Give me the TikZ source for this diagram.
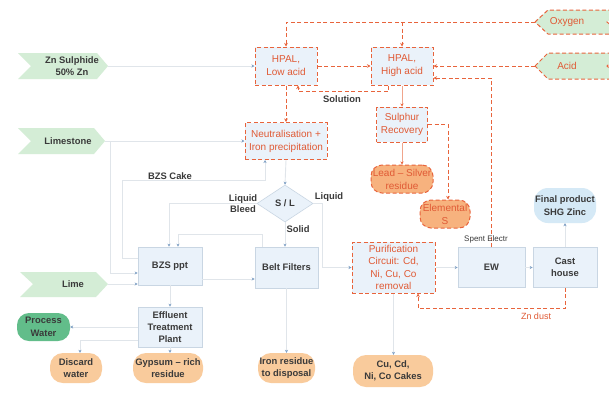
\documentclass[tikz,border=0pt]{standalone}
\usepackage{fontspec}
\setmainfont{Liberation Sans}
\usetikzlibrary{shapes.geometric,arrows.meta,calc}
\definecolor{redc}{HTML}{E8643C}
\definecolor{redtext}{HTML}{E05A35}
\definecolor{chevfill}{HTML}{D4EDD6}
\definecolor{boxfill}{HTML}{EAF2FA}
\definecolor{boxline}{HTML}{C9D6E3}
\definecolor{linegray}{HTML}{E0E5EA}
\definecolor{darktext}{HTML}{3A3A3A}
\definecolor{orangefill}{HTML}{F9CB9C}
\definecolor{orangetwo}{HTML}{F7B27E}
\definecolor{procfill}{HTML}{62BD8A}
\definecolor{finalfill}{HTML}{D5E9F6}
\definecolor{arrowblue}{HTML}{7D9FC4}
\definecolor{thinred}{HTML}{F0A58C}
\tikzset{
 box/.style={rectangle, draw=boxline, line width=0.6pt, fill=boxfill, text=darktext, font=\bfseries\fontsize{9.4}{12.5}\selectfont, align=center, inner sep=1pt},
 rbox/.style={box, draw=redc, line width=1pt, dash pattern=on 4pt off 2.5pt, text=redtext, font=\fontsize{10}{13}\selectfont},
 term/.style={rectangle, rounded corners=12pt, fill=orangefill, text=darktext, font=\bfseries\fontsize{9.4}{12.5}\selectfont, align=center, inner sep=1pt},
 rterm/.style={term, fill=orangetwo, draw=redc, line width=1pt, dash pattern=on 4pt off 2.5pt, text=redtext, font=\fontsize{10}{13}\selectfont},
 lbl/.style={text=darktext, font=\bfseries\fontsize{9.4}{11.5}\selectfont, align=center, inner sep=0pt},
 conn/.style={draw=linegray, line width=0.9pt, -{Stealth[length=3pt,width=3pt,color=arrowblue]}},
 thin/.style={draw=thinred, line width=0.8pt, -{Stealth[length=3pt,width=3pt,color=redc]}},
 rconn/.style={draw=redc, line width=1pt, dash pattern=on 4pt off 2.5pt, -{Stealth[length=3.5pt,width=3.5pt]}},
 chevr/.style={fill=chevfill, draw=redc, line width=1pt, dash pattern=on 4pt off 2.5pt},
}
\begin{document}
\begin{tikzpicture}[x=1pt,y=-1pt]
\fill[white] (0,0) rectangle (609,392);
\clip (0,0) rectangle (609,392);

% chevrons (inputs)
\fill[chevfill] (18,53) -- (97,53) -- (108,66) -- (97,79) -- (18,79) -- (31,66) -- cycle;
\node[lbl] (zns) at (72,66) {Zn Sulphide\\50\% Zn};
\coordinate (znstip) at (108,66);
\fill[chevfill] (18,128) -- (94,128) -- (105,141) -- (94,154) -- (18,154) -- (31,141) -- cycle;
\node[lbl] (lst) at (68,141) {Limestone};
\coordinate (lsttip) at (105,141);
\fill[chevfill] (20,272) -- (96,272) -- (108,284) -- (96,297) -- (20,297) -- (33,284) -- cycle;
\node[lbl] (lime) at (73,284.5) {Lime};
\coordinate (limetip) at (108,284);
\path[chevr] (535,22) -- (548,10) -- (622,10) -- (607,22) -- (622,34) -- (548,34) -- cycle;
\node[lbl,text=redtext,font=\fontsize{10}{12}\selectfont] (oxy) at (567,22) {Oxygen};
\coordinate (oxtip) at (535,22);
\path[chevr] (535,66) -- (548,53) -- (622,53) -- (607,66) -- (622,79) -- (548,79) -- cycle;
\node[lbl,text=redtext,font=\fontsize{10}{12}\selectfont] (acid) at (567,66) {Acid};
\coordinate (acidtip) at (535,66);

% process boxes
\node[rbox, minimum width=62, minimum height=38] (lowacid) at (286,66) {HPAL,\\Low acid};
\node[rbox, minimum width=62, minimum height=38] (highacid) at (402,66) {HPAL,\\High acid};
\node[rbox, minimum width=82, minimum height=37] (neut) at (286,141) {Neutralisation +\\Iron precipitation};
\node[rbox, minimum width=51, minimum height=35] (sulph) at (402,124.5) {Sulphur\\Recovery};
\node[rterm, minimum width=62, minimum height=28, rounded corners=11pt] (leadag) at (402,179) {Lead -- Silver\\residue};
\node[rterm, minimum width=50, minimum height=28, rounded corners=11pt] (elems) at (445,214) {Elemental\\S};
\node[rbox, minimum width=83, minimum height=51, font=\fontsize{10}{12.3}\selectfont] (purif) at (393.5,267.5) {Purification\\Circuit: Cd,\\Ni, Cu, Co\\removal};
\node[box, minimum width=67, minimum height=40] (ew) at (491.5,267.5) {EW};
\node[box, minimum width=64, minimum height=40] (cast) at (565,267.5) {Cast\\house};
\node[term, fill=finalfill, minimum width=62, minimum height=35, rounded corners=14pt] (final) at (565,205.5) {Final product\\SHG Zinc};
\node[term, minimum width=80, minimum height=32, rounded corners=13pt] (cakes) at (393,371) {Cu, Cd,\\Ni, Co Cakes};
\node[box, minimum width=64, minimum height=38] (bzs) at (170,266) {BZS ppt};
\node[box, minimum width=63, minimum height=41] (belt) at (286.5,267.5) {Belt Filters};
\node[box, minimum width=64, minimum height=40, font=\bfseries\fontsize{9.4}{12.3}\selectfont] (eff) at (170,327) {Effluent\\Treatment\\Plant};
\node[diamond, draw=boxline, line width=0.6pt, fill=boxfill, text=darktext, font=\bfseries\fontsize{9.4}{11}\selectfont, minimum width=56, minimum height=37, inner sep=0pt] (sl) at (285,203.5) {S / L};
\node[term, fill=procfill, minimum width=53, minimum height=28, rounded corners=12pt] (procw) at (43.5,327) {Process\\Water};
\node[term, minimum width=52, minimum height=30, rounded corners=13pt] (discard) at (76,368) {Discard\\water};
\node[term, minimum width=70, minimum height=30, rounded corners=13pt] (gyps) at (168,368) {Gypsum -- rich\\residue};
\node[term, minimum width=57, minimum height=30, rounded corners=13pt] (iron) at (286.5,368) {Iron residue\\to disposal};

% red dashed connectors
\draw[rconn] (oxtip) -| (lowacid.north);
\draw[rconn] (highacid.north |- oxtip) -- (highacid.north);
\draw[rconn] (acidtip) -- (highacid.east);
\draw[rconn] (lowacid.east) -- (highacid.west);
\draw[rconn] ($(highacid.south)+(-14,0)$) -- ++(0,6) -| ($(lowacid.south)+(12,0)$);
\draw[rconn] (lowacid.south) -- (neut.north);
\draw[rconn] (ew.north) |- ($(highacid.east)+(0,12)$);
\draw[rconn] (sulph.east) -| ($(elems.north)+(3,0)$);
\draw[rconn] (cast.south) -- ++(0,21) -| ($(purif.south)+(24.5,0)$);
\draw[thin] (highacid.south) -- (sulph.north);
\draw[thin] (sulph.south) -- (leadag.north);

% gray connectors
\draw[conn] (znstip) -- (lowacid.west);
\draw[conn] (lsttip) -- (neut.west);
\draw[conn] (lsttip) -- ++(5,0) |- ($(bzs.west)+(0,7)$);
\draw[conn] (limetip) -- ($(bzs.west)+(0,18)$);
\draw[conn] ($(bzs.west)+(0,-8)$) -| (122,180) -| ($(neut.south)+(-21,0)$);
\draw[conn] (neut.south) -- (sl.north);
\draw[conn] (sl.west) -| ($(bzs.north)+(-1,0)$);
\draw[conn] ($(belt.north)+(-24,0)$) -- ++(0,-12) -| ($(bzs.north)+(8,0)$);
\draw[conn] (sl.south) -- (sl.south |- belt.north);
\draw[conn] (sl.east) -| ($(purif.west)+(-29,0)$) -- (purif.west);
\draw[conn] ($(bzs.east)+(0,13)$) -- ($(belt.west)+(0,11.5)$);
\draw[conn] (belt.south) -- (iron.north);
\draw[conn] (bzs.south) -- (eff.north);
\draw[conn] (eff.west) -- (procw.east);
\draw[conn] ($(eff.west)+(0,13)$) -| ($(discard.north)+(4,0)$);
\draw[conn] (eff.south) -- (eff.south |- gyps.north);
\draw[conn] (purif.south) -- (purif.south |- cakes.north);
\draw[conn] (purif.east) -- (ew.west);
\draw[conn] (ew.east) -- (cast.west);
\draw[conn] (cast.north) -- (final.south);

% labels
\node[lbl] (bzscake) at (170,176) {BZS Cake};
\node[lbl] (bleed) at (243,203.5) {Liquid\\Bleed};
\node[lbl] (liq) at (329,197) {Liquid};
\node[lbl] (solid) at (298,229) {Solid};
\node[lbl] (soln) at (342,99) {Solution};
\node[lbl, font=\fontsize{8}{10}\selectfont] (spent) at (486,239) {Spent Electr};
\node[lbl, text=redtext, font=\fontsize{9}{11}\selectfont] (zndust) at (536,316) {Zn dust};
\end{tikzpicture}
\end{document}
